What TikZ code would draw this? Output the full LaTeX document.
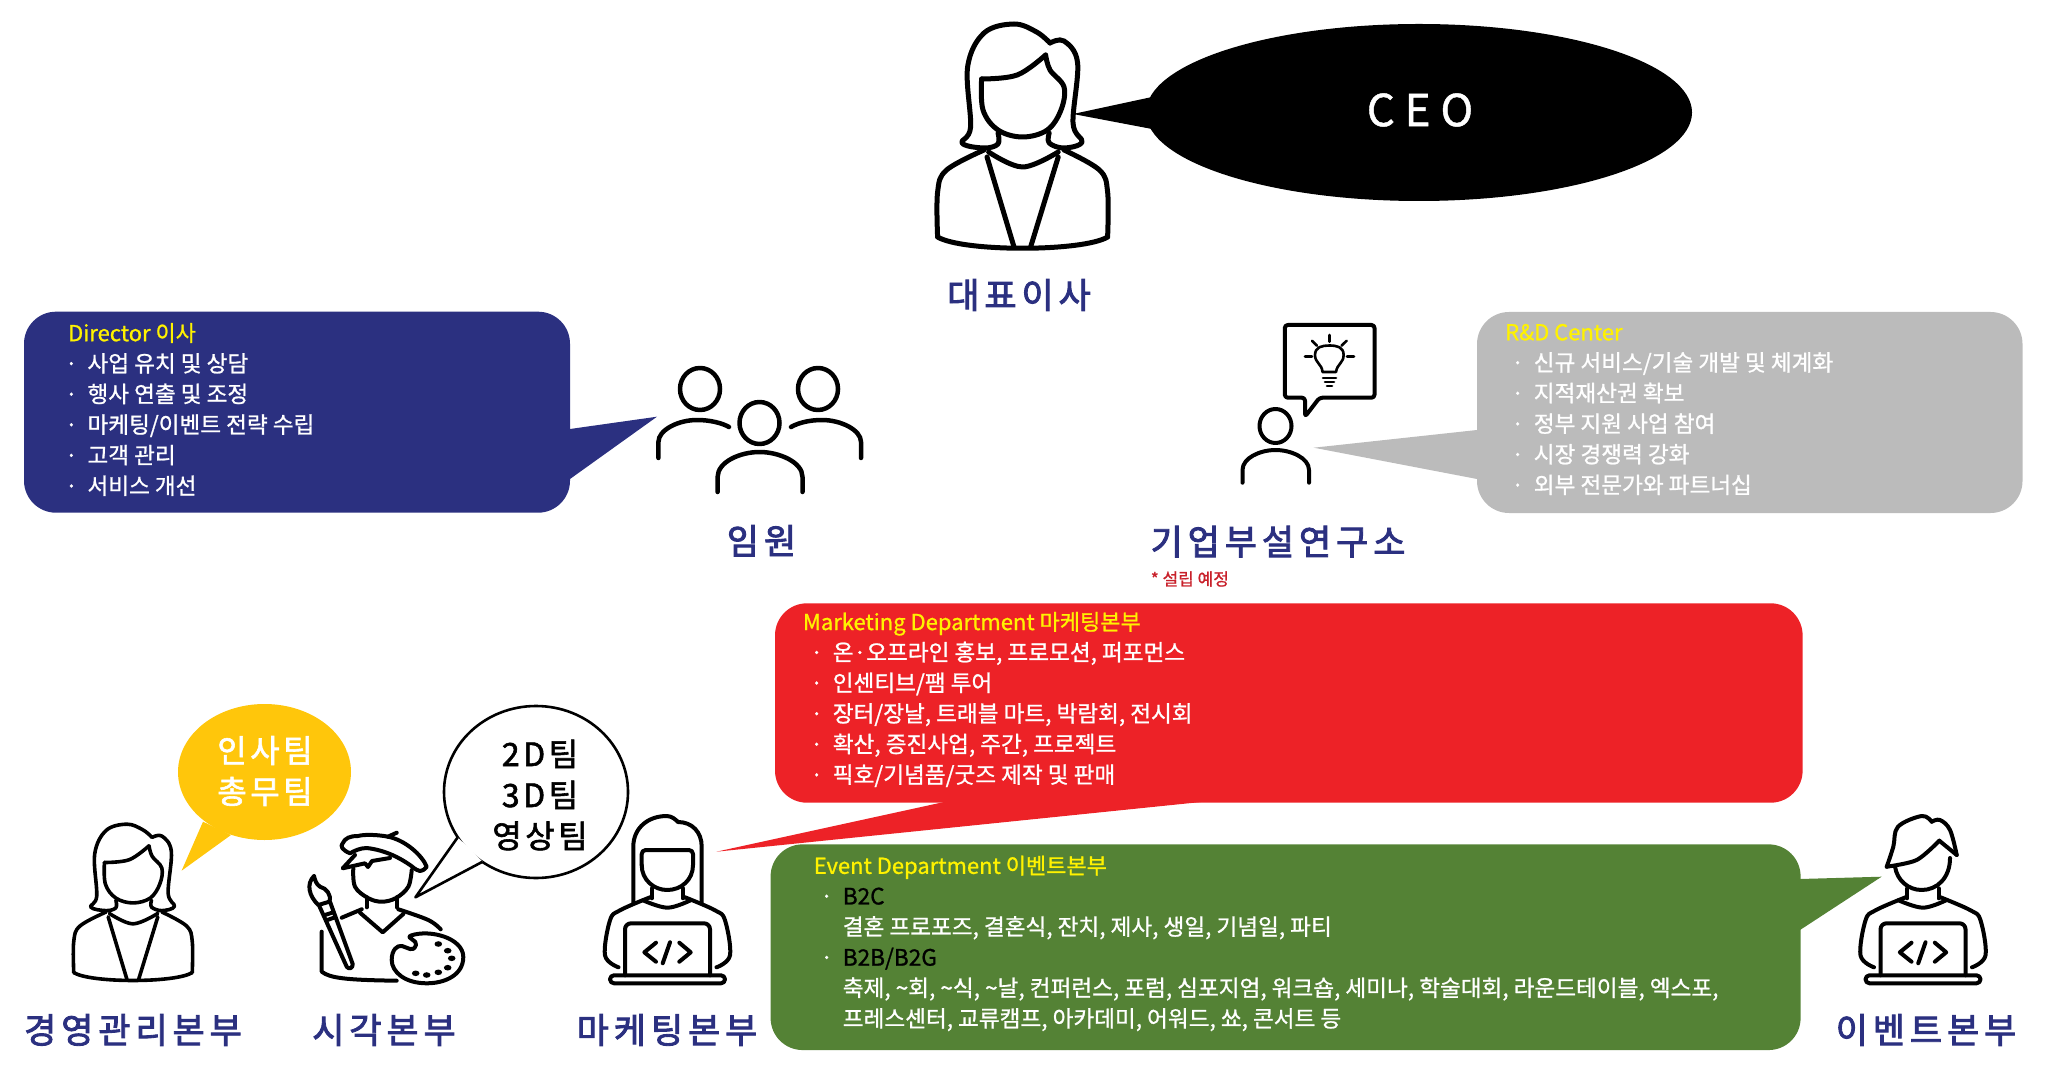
\documentclass[tikz,border=0pt]{standalone}
\usepackage{fontspec}
\usetikzlibrary{shapes.geometric}
\setmainfont[FakeBold=1]{Noto Sans CJK KR}
\newfontfamily\deptfont[LetterSpace=14,FakeBold=2.5]{Noto Sans CJK KR}
\newfontfamily\teamfont[LetterSpace=11,FakeBold=1.8]{Noto Sans CJK KR}
\newcommand{\bul}{\makebox[9.7pt][l]{\hspace*{-1.5pt}·}}
\newcommand{\boxtitle}[1]{\textcolor{yellow}{\fontsize{11}{15.3}\selectfont #1}}
\definecolor{navybox}{HTML}{2B3080}
\definecolor{greybox}{HTML}{BBBBBB}
\definecolor{redbox}{HTML}{ED2227}
\definecolor{greenbox}{HTML}{548235}
\definecolor{goldbox}{HTML}{FFC60B}
\definecolor{noteRed}{HTML}{C8202A}
\tikzset{
  bubble/.style={rectangle,rounded corners=16pt,inner sep=0pt},
  oval/.style={ellipse,inner sep=0pt},
  listtext/.style={anchor=west,inner sep=0pt,align=left,text=white,
    font=\fontsize{11.3}{15.3}\selectfont},
  deptlabel/.style={inner sep=0pt,text=navybox,font=\deptfont\fontsize{17.5}{20}\selectfont},
  teamtext/.style={inner sep=0pt,align=center,font=\teamfont\fontsize{16}{20.5}\selectfont},
  icon/.style={line join=round,line cap=round,line width=2pt,draw=black},
  woman/.pic={
    \draw[pic actions] plot[smooth,tension=.6] coordinates {(-24.6,-117) (-24.6,-106) (-38.6,-102) (-60.6,-107) (-52,-123) (-55,-183) (-38.6,-217) (-8.6,-226) (14,-218) (27.4,-207)};
    \draw[pic actions] plot[smooth,tension=.6] coordinates {(27.4,-207) (41.4,-209) (55,-187) (50.4,-127) (59.4,-108) (41.4,-102) (26.6,-107) (26.6,-117)};
    \draw[pic actions] plot[smooth,tension=.6] coordinates {(-41,-171) (-5.4,-175) (23,-195)};
    \draw[pic actions] plot[smooth,tension=.6] coordinates {(23,-195) (27.4,-180) (41.4,-163) (38.4,-140) (24.7,-120) (0,-113) (-24.6,-120) (-39.6,-140) (-41,-171)};
    \draw[pic actions] plot[smooth,tension=.6] coordinates {(-34,-98) (0,-83) (35.6,-98)};
    \draw[pic actions] plot[smooth,tension=.6] coordinates {(-38.6,-100) (-76,-80) (-85,-58) (-85,-13)};
    \draw[pic actions] plot[smooth,tension=.6] coordinates {(41.4,-100) (76.8,-80) (85,-58) (85,-13)};
    \draw[pic actions] (-85,-13) .. controls (-60,2) and (60,2) .. (85,-13);
    \draw[pic actions] (-35.6,-93) -- (-8.6,-3);
    \draw[pic actions] (35.6,-93) -- (8,-3);
  },
  laptopbody/.pic={
    \draw[pic actions] plot[smooth,tension=.6] coordinates {(-17.5,-86) (-47.5,-73) (-57.5,-63) (-62.5,-28) (-49,-16)};
    \draw[pic actions] plot[smooth,tension=.6] coordinates {(17.5,-86) (47.5,-73) (57.5,-63) (62.5,-28) (49,-16)};
    \draw[pic actions] plot[smooth,tension=.6] coordinates {(-24.5,-83) (0,-75.6) (23,-83)};
    \draw[pic actions] (-15.8,-95) -- (-15.8,-85) (15.5,-95) -- (15.5,-85);
    \draw[pic actions,rounded corners=3pt] (-42.5,-8) -- (-42.5,-60) -- (42.5,-60) -- (42.5,-8);
    \draw[pic actions,rounded corners=2pt] (-57.5,-8) -- (-57.5,0) -- (57.5,0) -- (57.5,-8) -- cycle;
    \draw[pic actions] (-11.5,-40.6) -- (-23.2,-31) -- (-11.5,-21.6);
    \draw[pic actions] (2.5,-41) -- (-4.8,-20);
    \draw[pic actions] (11.8,-40.6) -- (23.2,-31) -- (11.8,-21.6);
  }
}
\begin{document}
\begin{tikzpicture}[x=.5pt,y=-.5pt]
  \useasboundingbox (0,0) rectangle (2048,1079);

  % CEO
  \fill[black] (1073,114) -- (1152,97) -- (1152,129) -- cycle;
  \node[oval,fill=black,minimum width=273pt,minimum height=88.5pt] (ceobubble) at (1419,112.5) {};
  \node[text=white,inner sep=0pt,font=\fontsize{22}{26}\selectfont] (ceotext) at (1420,110) {C E O};
  \pic[icon,line width=2.5pt] at (1022.6,250) {woman};

  % director
  \node[bubble,fill=navybox,minimum width=273pt,minimum height=100.5pt] (dirbubble) at (297,412.2) {};
  \fill[navybox] (657,416.7) -- (570,429) -- (570,479) -- cycle;
  \node[listtext] (dirtext) at (67.7,409.5) {\boxtitle{Director 이사}\\
    \bul 사업 유치 및 상담\\
    \bul 행사 연출 및 조정\\
    \bul 마케팅/이벤트 전략 수립\\
    \bul 고객 관리\\
    \bul 서비스 개선};

  \begin{scope}[icon,line width=2.25pt]
    \draw (700,389) ellipse (20 and 21);
    \draw (818,389) ellipse (20 and 21);
    \draw (759.5,423) ellipse (20 and 21);
    \draw (658.4,458) -- (658.4,442) .. controls (658.4,430) and (678,420) .. (697,420) .. controls (710,420) and (722,423) .. (729,427);
    \draw (861,458) -- (861,442) .. controls (861,430) and (841,420) .. (822,420) .. controls (809,420) and (798,423) .. (791,427);
    \draw (717.6,492) -- (717.6,477) .. controls (717.6,462) and (740,452) .. (759.5,452) .. controls (779,452) and (802.5,462) .. (802.5,477) -- (802.5,492);
  \end{scope}

  % research center
  \node[bubble,fill=greybox,minimum width=272.75pt,minimum height=100.5pt] (rndbubble) at (1749.75,412.5) {};
  \fill[greybox] (1313.7,447.7) -- (1477,430) -- (1477,479) -- cycle;
  \node[listtext] (rndtext) at (1504.8,409.5) {\boxtitle{R\&D Center}\\
    \hspace*{4.6pt}\bul 신규 서비스/기술 개발 및 체계화\\
    \hspace*{4.6pt}\bul 지적재산권 확보\\
    \hspace*{4.6pt}\bul 정부 지원 사업 참여\\
    \hspace*{4.6pt}\bul 시장 경쟁력 강화\\
    \hspace*{4.6pt}\bul 외부 전문가와 파트너십};

  \begin{scope}[icon,line width=2pt]
    \draw (1275.5,426) ellipse (16 and 17);
    \draw (1242.5,482.7) -- (1242.5,470) .. controls (1242.5,458) and (1260,450) .. (1275.5,450) .. controls (1291,450) and (1309,458) .. (1309,470) -- (1309,482.7);
    \draw[rounded corners=1.5pt] (1305,416.7) -- (1305,397.7) -- (1284.8,397.7) -- (1284.8,325) -- (1374.5,325) -- (1374.5,397.7) -- (1319.5,397.7) -- cycle;
    \begin{scope}[line width=1.3pt]
      \draw (1322.5,372) .. controls (1322,364) and (1315,363) .. (1315,355) .. controls (1315,347) and (1322,345.5) .. (1329.3,345.5) .. controls (1337,345.5) and (1343.6,347) .. (1343.6,355) .. controls (1343.6,363) and (1337,364) .. (1336,372) -- cycle;
      \draw (1323,378) -- (1336,378);
      \draw (1325,382) -- (1334,382);
      \draw (1327,386) -- (1332,386);
      \draw (1329.3,335) -- (1329.3,341.7);
      \draw (1312,340.7) -- (1317,345.7);
      \draw (1346.7,340.7) -- (1341.5,345.7);
      \draw (1305,356.7) -- (1312,356.7);
      \draw (1354,356.7) -- (1347,356.7);
    \end{scope}
  \end{scope}

  \node[inner sep=0pt,anchor=west,text=noteRed,font=\fontsize{8.5}{10}\selectfont] (rndnote) at (1150.4,579) {* 설립 예정};

  % marketing
  \node[bubble,fill=redbox,minimum width=513.8pt,minimum height=99.7pt] (mktbubble) at (1288.8,703) {};
  \fill[redbox] (716.4,851.7) -- (944,802) -- (1201,802) -- cycle;
  \node[listtext] (mkttext) at (802.6,699.5) {\boxtitle{Marketing Department 마케팅본부}\\
    \hspace*{5.2pt}\bul 온·오프라인 홍보, 프로모션, 퍼포먼스\\
    \hspace*{5.2pt}\bul 인센티브/팸 투어\\
    \hspace*{5.2pt}\bul 장터/장날, 트래블 마트, 박람회, 전시회\\
    \hspace*{5.2pt}\bul 확산, 증진사업, 주간, 프로젝트\\
    \hspace*{5.2pt}\bul 픽호/기념품/굿즈 제작 및 판매};
  \pic[icon] at (667.5,983.3) {laptopbody};
  \begin{scope}[icon]
    \draw (633.3,902.7) -- (633.3,846.7) .. controls (633.3,828) and (648,816) .. (666.7,816) .. controls (672,816) and (676,820) .. (678,822) .. controls (692,822) and (701.7,832) .. (701.7,846.7) -- (701.7,902.7);
    \draw[rounded corners=2pt] (641.7,865) -- (641.7,850) -- (693,850) -- (693,865);
    \draw (641.7,865) .. controls (641.7,880) and (654,890) .. (667.3,890) .. controls (681,890) and (693,880) .. (693,865);
  \end{scope}

  % event
  \node[bubble,fill=greenbox,minimum width=515pt,minimum height=102.85pt] (evtbubble) at (1285.6,947.2) {};
  \fill[greenbox] (1881.6,876.7) -- (1800,879) -- (1800,930) -- cycle;
  \node[listtext] (evttext) at (813.4,943.4) {\boxtitle{Event Department 이벤트본부}\\
    \hspace*{4.8pt}\bul\textcolor{black}{B2C}\\
    \hspace*{14.5pt}결혼 프로포즈, 결혼식, 잔치, 제사, 생일, 기념일, 파티\\
    \hspace*{4.8pt}\bul\textcolor{black}{B2B/B2G}\\
    \hspace*{14.5pt}축제, \textasciitilde 회, \textasciitilde 식, \textasciitilde 날, 컨퍼런스, 포럼, 심포지엄, 워크숍, 세미나, 학술대회, 라운드테이블, 엑스포,\\
    \hspace*{14.5pt}프레스센터, 교류캠프, 아카데미, 어워드, 쑈, 콘서트 등};
  \pic[icon] at (1923,983.3) {laptopbody};
  \begin{scope}[icon]
    \draw plot[smooth,tension=.6] coordinates {(1886.7,866.7) (1893.3,846.7) (1898,826.7) (1921.7,816) (1931.7,821.7)};
    \draw plot[smooth,tension=.6] coordinates {(1931.7,821.7) (1940,820) (1950,830) (1956.7,855)};
    \draw plot[smooth,tension=.5] coordinates {(1886.7,866.7) (1916.7,860) (1939.3,840.7)};
    \draw (1939.3,840.7) -- (1956.7,855);
    \draw (1895,866.7) .. controls (1897,880) and (1908,890) .. (1921.7,890) .. controls (1937,890) and (1950,878) .. (1950,858);
  \end{scope}

  % management
  \node[oval,fill=goldbox,minimum width=86.5pt,minimum height=68pt] (hrbubble) at (264.5,772) {};
  \fill[goldbox] (181.6,870.7) -- (203,821.7) -- (231,835) -- cycle;
  \node[teamtext,text=white] (hrtext) at (265,771) {인사팀\\총무팀};
  \pic[icon,line width=1.8pt,scale=.697] at (133,981.7) {woman};

  % visual
  \node[oval,draw=black,line width=1.3pt,minimum width=92pt,minimum height=86pt] (vizbubble) at (536,792) {};
  \path[draw=black,line width=1.3pt,fill=white,line join=round] (457.7,837.3) -- (415.4,897.3) -- (482.6,861.7);
  \node[teamtext,text=black] (viztext) at (540,795) {2D팀\\3D팀\\영상팀};

  \begin{scope}[icon]
    \draw (350,853.3) .. controls (342,850) and (340,846) .. (342.7,843.3) .. controls (345,838) and (350,836) .. (358,836) .. controls (365,834) and (380,835) .. (388,836.7) .. controls (405,840) and (422,855) .. (426.7,866.7) .. controls (424,870) and (422,871) .. (420,871) .. controls (415,870) and (412,866) .. (410,865) .. controls (400,858) and (385,850) .. (366.7,848) .. controls (360,848) and (354,851) .. (350,853.3);
    \draw (388,836.7) -- (396.7,832.7);
    \draw (355,855) -- (342.7,868.3) -- (365,863.3) -- (368,867) -- (372,861) -- (390,858);
    \draw plot[smooth,tension=.6] coordinates {(353.3,868.3) (355,886.7) (368,898) (381.7,901.7) (396,898) (408.3,886.7) (411.7,870)};
    \draw (366.7,897.3) -- (366.7,907.3);
    \draw (396.7,897.3) -- (396.7,907.3);
    \draw (360,912.7) -- (382.7,932.3) -- (403.3,914);
    \draw (361.7,909.3) -- (341.7,917.7);
    \draw plot[smooth,tension=.6] coordinates {(398.3,909.3) (428.3,920) (440.7,929.3)};
    \draw (321.7,931.7) -- (321.7,971.7) .. controls (330,978) and (345,980) .. (396.7,980.7);
    \draw (330,901.7) -- (352.7,964) .. controls (353,968) and (349,970) .. (346.7,966.7) -- (319.3,906);
    \draw (325,915) -- (333.3,912.3);
    \draw (327.3,920) -- (335,917.3);
    \draw (314,876) .. controls (306,884) and (309,896) .. (318.3,905) -- (329.3,901.7) .. controls (332,895) and (326,888) .. (320,886.7) .. controls (316,884) and (315,880) .. (314,876);
    \draw[fill=white] (411,935.5) .. controls (430,929) and (463.3,938) .. (463.3,957) .. controls (463.3,975) and (445,983.3) .. (426.7,983.3) .. controls (405,983.3) and (391.7,972) .. (391.7,960) .. controls (391.7,950) and (397,945) .. (402,946) .. controls (408,947.5) and (413,953) .. (416,945) .. controls (418,940) and (405,938) .. (411,935.5) -- cycle;
    \foreach \dotx/\doty in {438.3/944,447.7/950.7,451.7/958.3,447.7/967.7,438.3/972.3,426.7/975,415.7/973.3}
      \fill (\dotx,\doty) ellipse (3.8 and 2.8);
  \end{scope}

  % labels
  \begin{scope}[every node/.style={deptlabel}]
    \node (ceolabel) at (1019,295) {대표이사};
    \node (dirlabel) at (761.5,540.7) {임원};
    \node (rndlabel) at (1278,541.7) {기업부설연구소};
    \node (mgmtlabel) at (133,1030) {경영관리본부};
    \node (vizlabel) at (384,1030) {시각본부};
    \node (mktlabel) at (667,1030) {마케팅본부};
    \node (evtlabel) at (1926,1030) {이벤트본부};
  \end{scope}

\end{tikzpicture}
\end{document}
